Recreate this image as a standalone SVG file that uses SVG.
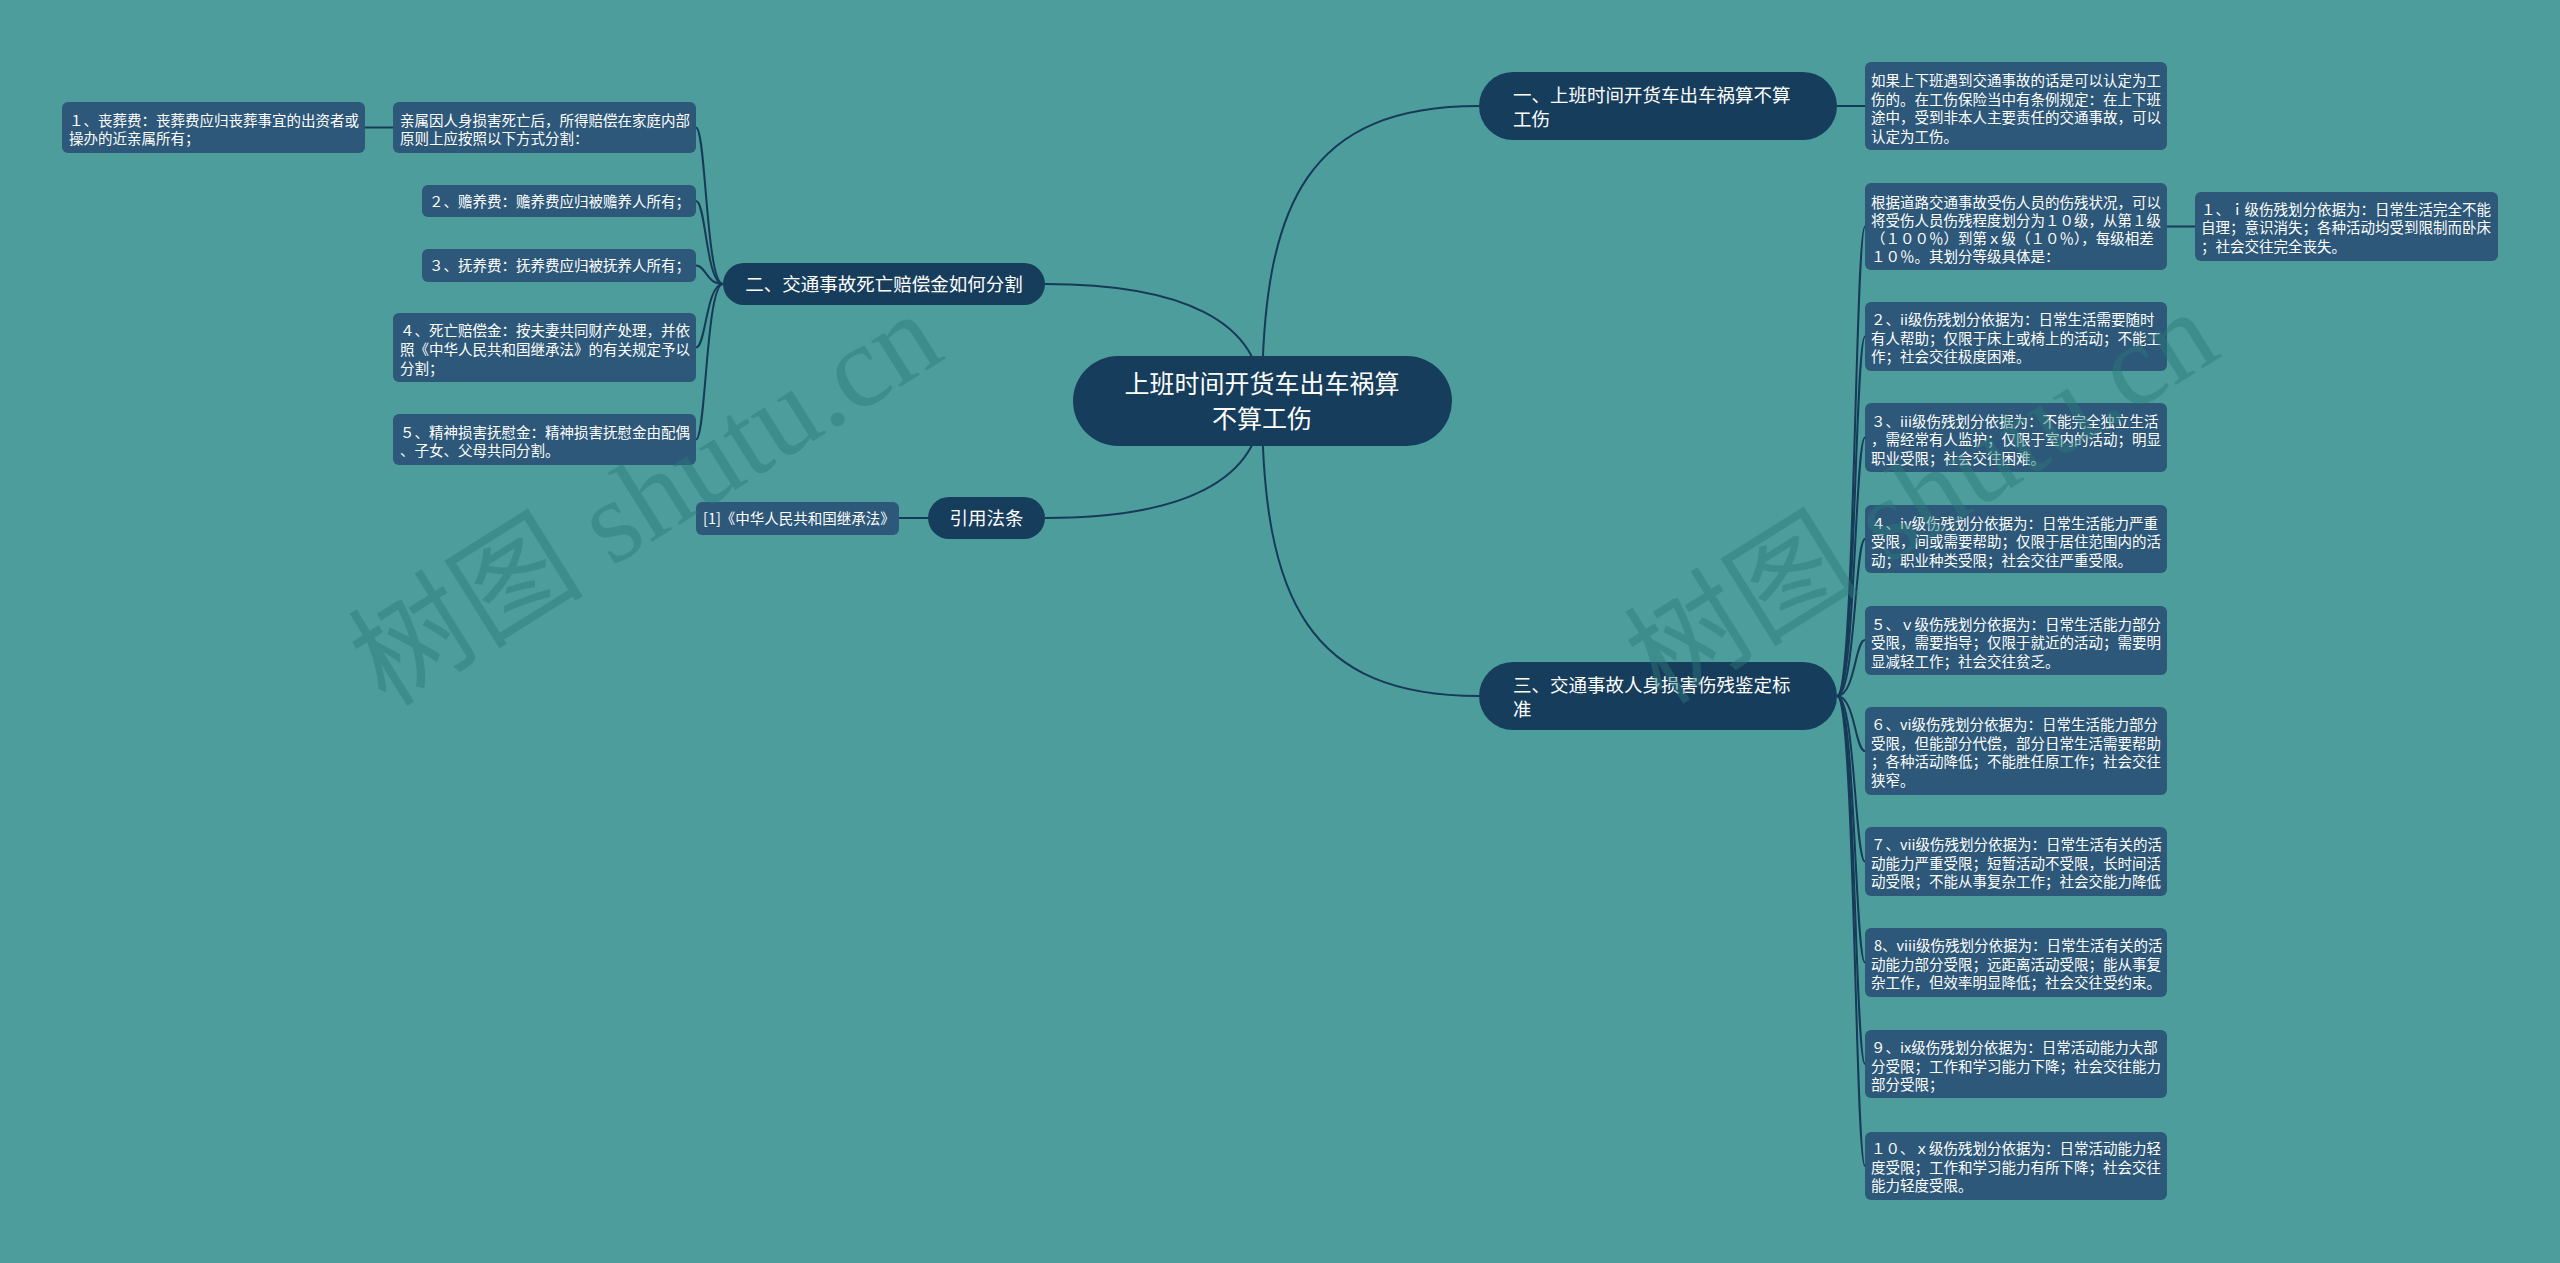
<svg xmlns="http://www.w3.org/2000/svg" width="2560" height="1263" viewBox="0 0 2560 1263">
<style>
.bg{fill:#4e9d9d}
.main{fill:#173d5c}
.box{fill:#2d5879}
.t{font-family:"Noto Sans CJK SC","Liberation Sans",sans-serif;fill:#ffffff}
.s{font-size:14.5px}
.m{font-size:18.5px}
.c{font-size:25px}
.ln{fill:none;stroke:#163a58;stroke-width:2}
.wm{font-family:"Liberation Serif","Noto Sans CJK SC",serif;font-size:118px;fill:#2c7a7a;opacity:0.45}
</style>
<rect class="bg" x="0" y="0" width="2560" height="1263"/>
<g id="connectors">
<path class="ln" d="M1262,401 C1262,200 1310,106 1479,106"/>
<path class="ln" d="M1262,401 C1262,602 1310,696 1479,696"/>
<path class="ln" d="M1045,284 C1180,284 1262,320 1262,401"/>
<path class="ln" d="M1045,518 C1180,518 1262,482 1262,401"/>
<path class="ln" d="M928,518 L899,518"/>
<path class="ln" d="M1837,106 L1865,106"/>
<path class="ln" d="M723,284 C706,284 706,127.5 696,127.5"/>
<path class="ln" d="M393,127.5 L365,127.5"/>
<path class="ln" d="M723,284 C706,284 706,201 696,201"/>
<path class="ln" d="M723,284 C706,284 706,265.5 696,265.5"/>
<path class="ln" d="M723,284 C706,284 706,347.5 696,347.5"/>
<path class="ln" d="M723,284 C706,284 706,439.5 696,439.5"/>
<path class="ln" d="M1837,696 C1855,696 1855,226.5 1865,226.5"/>
<path class="ln" d="M2167,226.5 L2195,226.5"/>
<path class="ln" d="M1837,696 C1855,696 1855,336.5 1865,336.5"/>
<path class="ln" d="M1837,696 C1855,696 1855,437.5 1865,437.5"/>
<path class="ln" d="M1837,696 C1855,696 1855,539 1865,539"/>
<path class="ln" d="M1837,696 C1855,696 1855,640 1865,640"/>
<path class="ln" d="M1837,696 C1855,696 1855,751 1865,751"/>
<path class="ln" d="M1837,696 C1855,696 1855,861.5 1865,861.5"/>
<path class="ln" d="M1837,696 C1855,696 1855,962.5 1865,962.5"/>
<path class="ln" d="M1837,696 C1855,696 1855,1064 1865,1064"/>
<path class="ln" d="M1837,696 C1855,696 1855,1166 1865,1166"/>
</g>
<g id="root">
<rect class="main" x="1073" y="356" width="379" height="90" rx="45"/>
<text class="t c" x="1262" y="393" text-anchor="middle">上班时间开货车出车祸算</text>
<text class="t c" x="1262" y="428" text-anchor="middle">不算工伤</text>
</g>
<g id="n1">
<rect class="main" x="1479" y="72" width="358" height="68" rx="34"/>
<text class="t m" x="1513" y="102">一、上班时间开货车出车祸算不算</text>
<text class="t m" x="1513" y="126">工伤</text>
</g>
<g id="n1a">
<rect class="box" x="1865" y="62" width="302" height="88" rx="6"/>
<text class="t s" x="1871" y="86">如果上下班遇到交通事故的话是可以认定为工</text>
<text class="t s" x="1871" y="104.5">伤的。在工伤保险当中有条例规定：在上下班</text>
<text class="t s" x="1871" y="123">途中，受到非本人主要责任的交通事故，可以</text>
<text class="t s" x="1871" y="141.5">认定为工伤。</text>
</g>
<g id="n2">
<rect class="main" x="723" y="263" width="322" height="42" rx="21"/>
<text class="t m" x="884" y="290.5" text-anchor="middle">二、交通事故死亡赔偿金如何分割</text>
</g>
<g id="n2a">
<rect class="box" x="393" y="102" width="303" height="51" rx="6"/>
<text class="t s" x="400" y="125.5">亲属因人身损害死亡后，所得赔偿在家庭内部</text>
<text class="t s" x="400" y="143.5">原则上应按照以下方式分割：</text>
</g>
<g id="n2a1">
<rect class="box" x="62" y="102" width="303" height="51" rx="6"/>
<text class="t s" x="69" y="125.5">１、丧葬费：丧葬费应归丧葬事宜的出资者或</text>
<text class="t s" x="69" y="143.5">操办的近亲属所有；</text>
</g>
<g id="n2b">
<rect class="box" x="422" y="185" width="274" height="32" rx="6"/>
<text class="t s" x="429" y="206.5">２、赡养费：赡养费应归被赡养人所有；</text>
</g>
<g id="n2c">
<rect class="box" x="422" y="249" width="274" height="33" rx="6"/>
<text class="t s" x="429" y="271">３、抚养费：抚养费应归被抚养人所有；</text>
</g>
<g id="n2d">
<rect class="box" x="393" y="313" width="303" height="69" rx="6"/>
<text class="t s" x="400" y="335.5">４、死亡赔偿金：按夫妻共同财产处理，并依</text>
<text class="t s" x="400" y="354.5">照《中华人民共和国继承法》的有关规定予以</text>
<text class="t s" x="400" y="373.5">分割；</text>
</g>
<g id="n2e">
<rect class="box" x="393" y="414" width="303" height="51" rx="6"/>
<text class="t s" x="400" y="437.5">５、精神损害抚慰金：精神损害抚慰金由配偶</text>
<text class="t s" x="400" y="455.5">、子女、父母共同分割。</text>
</g>
<g id="n4">
<rect class="main" x="928" y="497" width="117" height="42" rx="21"/>
<text class="t m" x="986.5" y="524.5" text-anchor="middle">引用法条</text>
</g>
<g id="n4a">
<rect class="box" x="696" y="502" width="203" height="33" rx="6"/>
<text class="t s" x="703" y="523.5">[1]《中华人民共和国继承法》</text>
</g>
<g id="n3">
<rect class="main" x="1479" y="662" width="358" height="68" rx="34"/>
<text class="t m" x="1513" y="692">三、交通事故人身损害伤残鉴定标</text>
<text class="t m" x="1513" y="715.5">准</text>
</g>
<g id="n3a">
<rect class="box" x="1865" y="183" width="302" height="87" rx="6"/>
<text class="t s" x="1871" y="207.5">根据道路交通事故受伤人员的伤残状况，可以</text>
<text class="t s" x="1871" y="225.5">将受伤人员伤残程度划分为１０级，从第１级</text>
<text class="t s" x="1871" y="243.5">（１００％）到第ｘ级（１０％），每级相差</text>
<text class="t s" x="1871" y="261.5">１０％。其划分等级具体是：</text>
</g>
<g id="n3a1">
<rect class="box" x="2195" y="192" width="303" height="69" rx="6"/>
<text class="t s" x="2201" y="214.5">１、ｉ级伤残划分依据为：日常生活完全不能</text>
<text class="t s" x="2201" y="233">自理；意识消失；各种活动均受到限制而卧床</text>
<text class="t s" x="2201" y="251.5">；社会交往完全丧失。</text>
</g>
<g id="n3b">
<rect class="box" x="1865" y="302" width="302" height="69" rx="6"/>
<text class="t s" x="1871" y="325">２、ii级伤残划分依据为：日常生活需要随时</text>
<text class="t s" x="1871" y="343.5">有人帮助；仅限于床上或椅上的活动；不能工</text>
<text class="t s" x="1871" y="362">作；社会交往极度困难。</text>
</g>
<g id="n3c">
<rect class="box" x="1865" y="403" width="302" height="69" rx="6"/>
<text class="t s" x="1871" y="426.5">３、iii级伤残划分依据为：不能完全独立生活</text>
<text class="t s" x="1871" y="445">，需经常有人监护；仅限于室内的活动；明显</text>
<text class="t s" x="1871" y="463.5">职业受限；社会交往困难。</text>
</g>
<g id="n3d">
<rect class="box" x="1865" y="505" width="302" height="68" rx="6"/>
<text class="t s" x="1871" y="528.5">４、iv级伤残划分依据为：日常生活能力严重</text>
<text class="t s" x="1871" y="547">受限，间或需要帮助；仅限于居住范围内的活</text>
<text class="t s" x="1871" y="565.5">动；职业种类受限；社会交往严重受限。</text>
</g>
<g id="n3e">
<rect class="box" x="1865" y="606" width="302" height="69" rx="6"/>
<text class="t s" x="1871" y="629.5">５、ｖ级伤残划分依据为：日常生活能力部分</text>
<text class="t s" x="1871" y="648">受限，需要指导；仅限于就近的活动；需要明</text>
<text class="t s" x="1871" y="666.5">显减轻工作；社会交往贫乏。</text>
</g>
<g id="n3f">
<rect class="box" x="1865" y="707" width="302" height="88" rx="6"/>
<text class="t s" x="1871" y="730">６、vi级伤残划分依据为：日常生活能力部分</text>
<text class="t s" x="1871" y="748.5">受限，但能部分代偿，部分日常生活需要帮助</text>
<text class="t s" x="1871" y="767">；各种活动降低；不能胜任原工作；社会交往</text>
<text class="t s" x="1871" y="785.5">狭窄。</text>
</g>
<g id="n3g">
<rect class="box" x="1865" y="827" width="302" height="69" rx="6"/>
<text class="t s" x="1871" y="850">７、vii级伤残划分依据为：日常生活有关的活</text>
<text class="t s" x="1871" y="868.5">动能力严重受限；短暂活动不受限，长时间活</text>
<text class="t s" x="1871" y="887">动受限；不能从事复杂工作；社会交能力降低</text>
</g>
<g id="n3h">
<rect class="box" x="1865" y="928" width="302" height="69" rx="6"/>
<text class="t s" x="1874" y="951">8、viii级伤残划分依据为：日常生活有关的活</text>
<text class="t s" x="1871" y="969.5">动能力部分受限；远距离活动受限；能从事复</text>
<text class="t s" x="1871" y="988">杂工作，但效率明显降低；社会交往受约束。</text>
</g>
<g id="n3i">
<rect class="box" x="1865" y="1030" width="302" height="68" rx="6"/>
<text class="t s" x="1871" y="1053">９、ix级伤残划分依据为：日常活动能力大部</text>
<text class="t s" x="1871" y="1071.5">分受限；工作和学习能力下降；社会交往能力</text>
<text class="t s" x="1871" y="1090">部分受限；</text>
</g>
<g id="n3j">
<rect class="box" x="1865" y="1132" width="302" height="68" rx="6"/>
<text class="t s" x="1871" y="1154">１０、ｘ级伤残划分依据为：日常活动能力轻</text>
<text class="t s" x="1871" y="1172.5">度受限；工作和学习能力有所下降；社会交往</text>
<text class="t s" x="1871" y="1191">能力轻度受限。</text>
</g>
<g id="watermark">
<text class="wm" transform="translate(386,708) rotate(-32)">树图 shutu.cn</text>
<text class="wm" transform="translate(1662,706) rotate(-32)">树图 shutu.cn</text>
</g>
</svg>
